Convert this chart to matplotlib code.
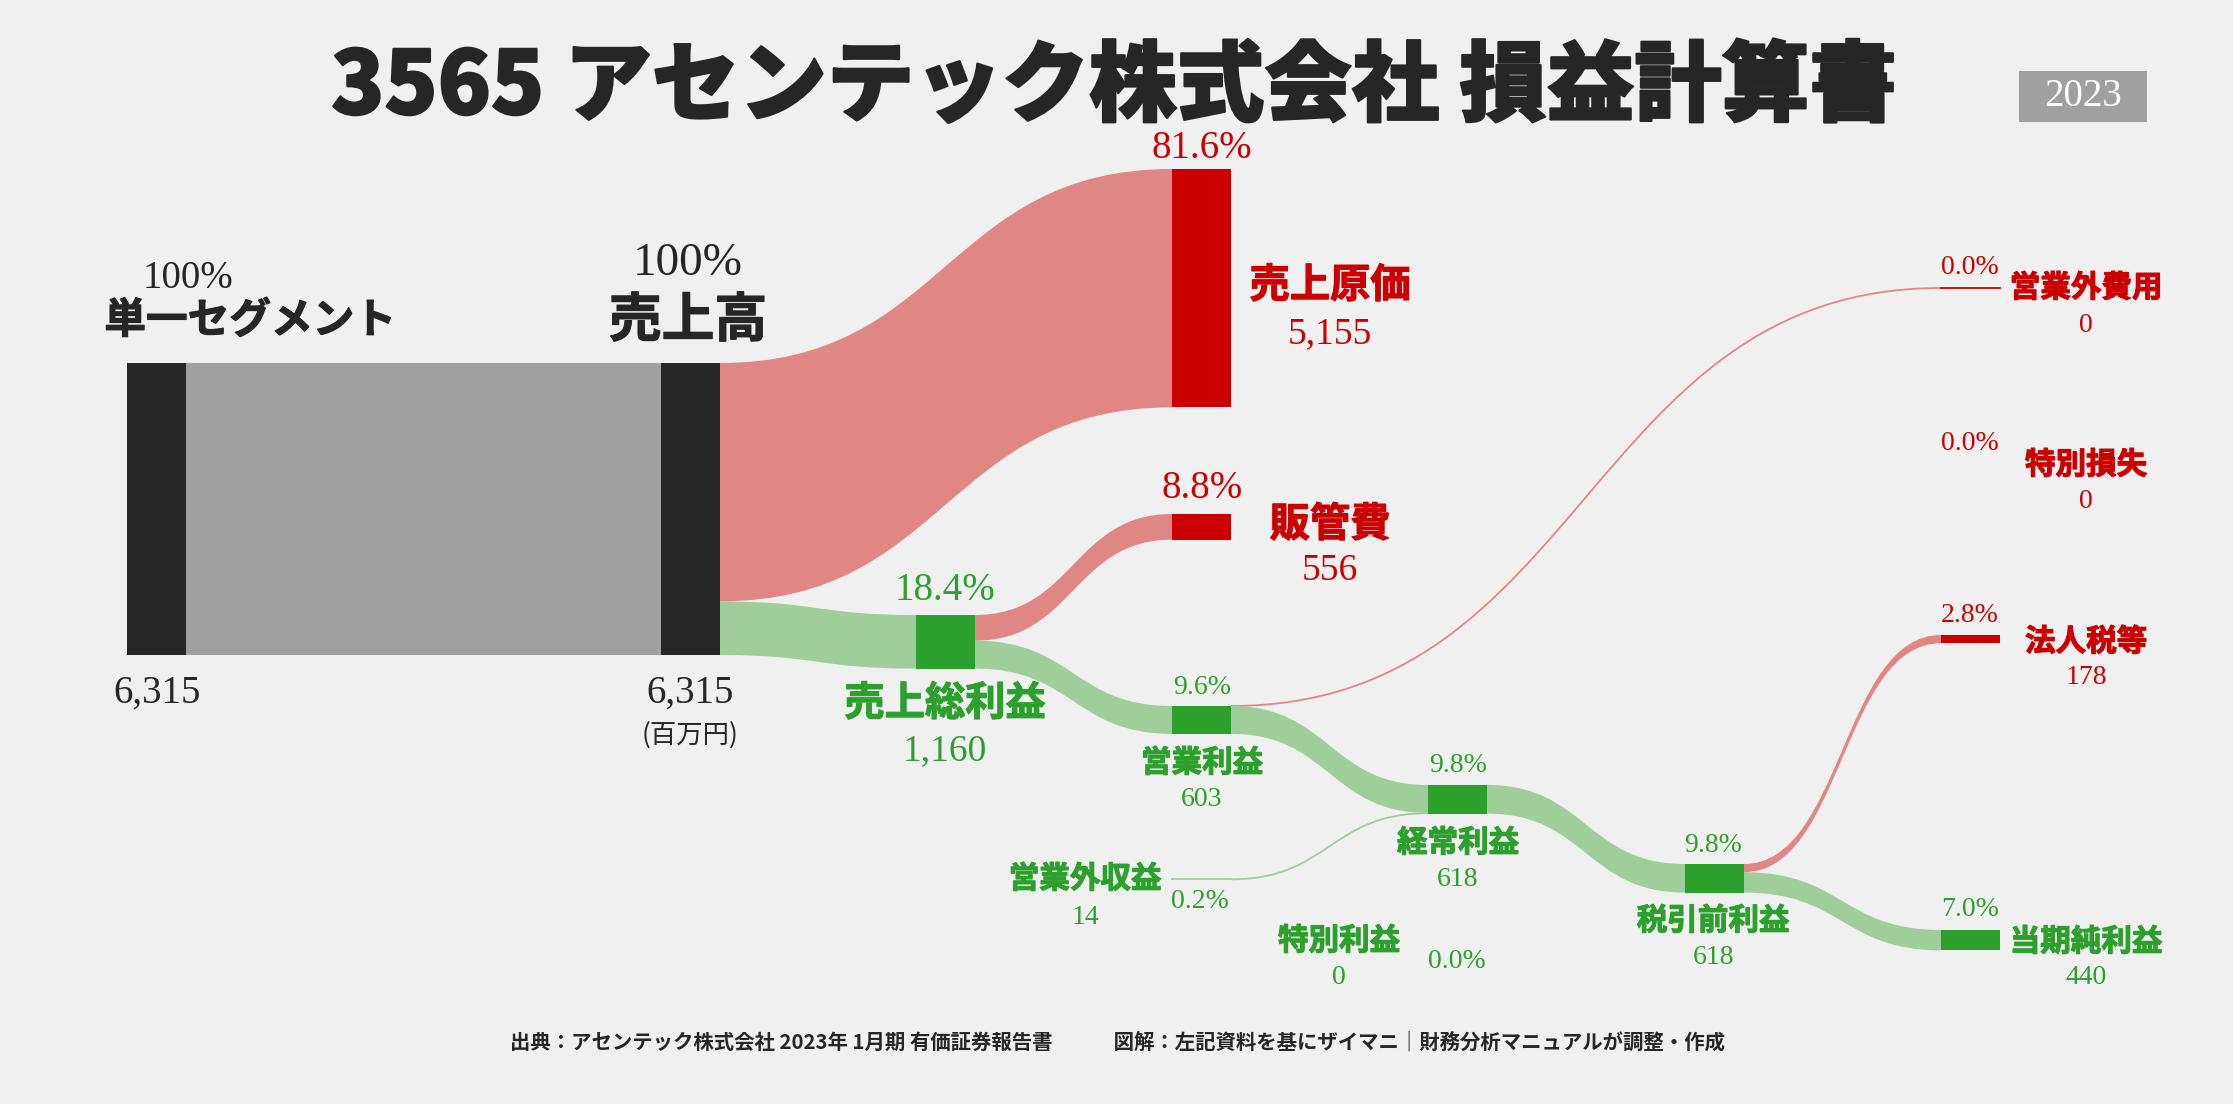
import matplotlib
matplotlib.use("Agg")
import matplotlib.pyplot as plt
import matplotlib.patheffects as pe
from matplotlib.path import Path
from matplotlib.patches import PathPatch, Rectangle

# ---------------- data ----------------
node_names = ["単一セグメント", "売上高", "売上原価", "売上総利益", "販管費", "営業利益",
              "営業外費用", "営業外収益", "経常利益", "特別利益", "特別損失",
              "税引前利益", "法人税等", "当期純利益"]
node_values = [6315, 6315, 5155, 1160, 556, 603, 0, 14, 618, 0, 0, 618, 178, 440]
node_pcts = ["100%", "100%", "81.6%", "18.4%", "8.8%", "9.6%", "0.0%", "0.2%",
             "9.8%", "0.0%", "0.0%", "9.8%", "2.8%", "7.0%"]
node_kinds = ["base", "base", "cost", "profit", "cost", "profit", "cost", "profit",
              "profit", "profit", "cost", "profit", "cost", "profit"]

link_sources = [0, 1, 1, 3, 3, 5, 5, 7, 8, 11, 11]
link_targets = [1, 2, 3, 4, 5, 6, 8, 8, 11, 12, 13]
link_values = [6315, 5155, 1160, 556, 603, 0, 603, 14, 618, 178, 440]

title = "3565 アセンテック株式会社 損益計算書"
year_label = "2023"
unit_label = "(百万円)"
footer = "出典：アセンテック株式会社 2023年 1月期 有価証券報告書　　　図解：左記資料を基にザイマニ｜財務分析マニュアルが調整・作成"

# ---------------- layout / style ----------------
W, H, DPI = 2233, 1104, 100
BG = "#f0f0f0"
DARK = "#262626"
RED = "#cc0000"
GREEN = "#2ca02c"
LINK_COL = {"base": "#a0a0a0", "cost": "#e08785", "profit": "#9fce9b"}
NODE_COL = {"base": DARK, "cost": RED, "profit": GREEN}
TEXT_COL = {"base": DARK, "cost": RED, "profit": GREEN}

NODE_W = 59
SCALE = 292 / 6315.0   # px per unit
node_x = [127, 661, 1172, 916, 1172, 1172, 1941, 1172, 1428, 1428, 1941, 1685, 1941, 1941]
node_top = [363, 363, 169, 615, 514, 706, 288, 879, 785, None, None, 864, 635, 930]

JP = ["Noto Sans CJK JP", "DejaVu Sans"]
SERIF = ["Liberation Serif", "DejaVu Serif"]

# label layout: (pct xy, pct size), (name xy, name size), (value xy, value size)
label_layout = [
    ((188, 279), 28, (250, 321), 30, (157, 693), 28),
    ((688, 264), 34, (688, 321), 38, (690, 693), 28),
    ((1202, 148), 28, (1330, 286), 29, (1330, 334), 27),
    ((945, 590), 28, (945, 704), 29, (945, 751), 27),
    ((1202, 489), 28, (1330, 525), 29, (1330, 571), 27),
    ((1202, 687), 20, (1202, 763), 22, (1202, 799), 20),
    ((1970, 267), 20, (2086, 288), 22, (2086, 325), 20),
    ((1200, 901), 20, (1085, 879), 22, (1085, 917), 20),
    ((1458, 766), 20, (1458, 843), 22, (1458, 879), 20),
    ((1457, 962), 20, (1339, 941), 22, (1339, 977), 20),
    ((1970, 444), 20, (2086, 465), 22, (2086, 501), 20),
    ((1713, 846), 20, (1713, 921), 22, (1713, 958), 20),
    ((1970, 616), 20, (2086, 642), 22, (2086, 678), 20),
    ((1970, 909), 20, (2086, 942), 22, (2086, 978), 20),
]

fig = plt.figure(figsize=(W / DPI, H / DPI), dpi=DPI, facecolor=BG)
ax = fig.add_axes([0, 0, 1, 1])
ax.set_xlim(0, W)
ax.set_ylim(H, 0)
ax.axis("off")
ax.set_facecolor(BG)

# ---------------- links ----------------
src_off = {}
tgt_off = {}
for s, t, v in zip(link_sources, link_targets, link_values):
    h = v * SCALE
    s0 = node_top[s] + src_off.get(s, 0.0)
    t0 = node_top[t] + tgt_off.get(t, 0.0)
    src_off[s] = src_off.get(s, 0.0) + h
    tgt_off[t] = tgt_off.get(t, 0.0) + h
    x0 = node_x[s] + NODE_W
    x1 = node_x[t]
    xm = (x0 + x1) / 2
    col = LINK_COL[node_kinds[t]]
    if h < 1.5:
        verts = [(x0, s0 + h / 2), (xm, s0 + h / 2), (xm, t0 + h / 2), (x1, t0 + h / 2)]
        codes = [Path.MOVETO, Path.CURVE4, Path.CURVE4, Path.CURVE4]
        ax.add_patch(PathPatch(Path(verts, codes), fc="none", ec=col, lw=1.3, zorder=1))
    else:
        verts = [(x0, s0), (xm, s0), (xm, t0), (x1, t0),
                 (x1, t0 + h), (xm, t0 + h), (xm, s0 + h), (x0, s0 + h), (x0, s0)]
        codes = [Path.MOVETO, Path.CURVE4, Path.CURVE4, Path.CURVE4,
                 Path.LINETO, Path.CURVE4, Path.CURVE4, Path.CURVE4, Path.CLOSEPOLY]
        ax.add_patch(PathPatch(Path(verts, codes), fc=col, ec="none", lw=0, zorder=1))

# ---------------- nodes ----------------
for i, v in enumerate(node_values):
    if node_top[i] is None:
        continue
    h = v * SCALE
    kind = node_kinds[i]
    if h < 1.5:
        col = NODE_COL[kind] if kind == "cost" else LINK_COL[kind]
        ax.plot([node_x[i], node_x[i] + NODE_W], [node_top[i] + h / 2] * 2,
                color=col, lw=1.3, zorder=2)
    else:
        ax.add_patch(Rectangle((node_x[i], node_top[i]), NODE_W, h,
                               fc=NODE_COL[kind], ec="none", zorder=2))

# ---------------- labels ----------------
for i, name in enumerate(node_names):
    (pxy, psz, nxy, nsz, vxy, vsz) = label_layout[i]
    col = TEXT_COL[node_kinds[i]]
    ax.text(*pxy, node_pcts[i], ha="center", va="center", fontsize=psz,
            family=SERIF, color=col, zorder=3)
    ax.text(*nxy, name, ha="center", va="center", fontsize=nsz,
            family=JP, fontweight="bold", color=col, zorder=3,
            path_effects=[pe.withStroke(linewidth=0.8, foreground=col)])
    ax.text(*vxy, f"{node_values[i]:,}", ha="center", va="center", fontsize=vsz,
            family=SERIF, color=col, zorder=3)

ax.text(690, 735, unit_label, ha="center", va="center", fontsize=19,
        family=JP, color=DARK)

# title
ax.text(1114, 88, title, ha="center", va="center", fontsize=63,
        family=JP, fontweight="black", color=DARK,
        path_effects=[pe.withStroke(linewidth=1.5, foreground=DARK)])
# year badge
ax.add_patch(Rectangle((2019, 71), 128, 51, fc="#a0a0a0", ec="none"))
ax.text(2083, 97, year_label, ha="center", va="center", fontsize=28,
        family=SERIF, color="white")
# footer
ax.text(1118, 1042, footer, ha="center", va="center", fontsize=14.7,
        family=JP, fontweight="bold", color=DARK)

fig.savefig("out.png", dpi=DPI, facecolor=BG)
